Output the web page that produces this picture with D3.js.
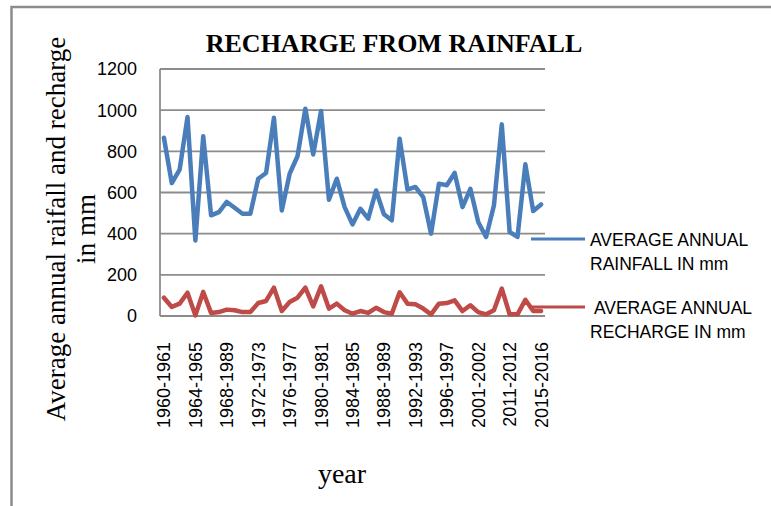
<!DOCTYPE html>
<html>
<head>
<meta charset="utf-8">
<script src="https://cdn.jsdelivr.net/npm/d3@7"></script>
<style>
  body { margin: 0; background: #fff; }
  svg { display: block; }
</style>
</head>
<body>
<svg id="chart" width="771" height="506"></svg>
<script>
// years, as printed on the axis where a label is shown
var years = [
  '1960-1961', '1961-1962', '1962-1963', '1963-1964', '1964-1965', '1965-1966',
  '1966-1967', '1967-1968', '1968-1989', '1969-1970', '1970-1971', '1971-1972',
  '1972-1973', '1973-1974', '1974-1975', '1975-1976', '1976-1977', '1977-1978',
  '1978-1979', '1979-1980', '1980-1981', '1981-1982', '1982-1983', '1983-1984',
  '1984-1985', '1985-1986', '1986-1987', '1987-1988', '1988-1989', '1989-1990',
  '1990-1991', '1991-1992', '1992-1993', '1993-1994', '1994-1995', '1995-1996',
  '1996-1997', '1997-1998', '1998-1999', '1999-2000', '2001-2002', '2002-2003',
  '2005-2006', '2008-2009', '2011-2012', '2012-2013', '2013-2014', '2014-2015',
  '2015-2016'
];

var rainfall = [
  866, 646, 711, 967, 367, 873, 489, 505, 554, 526, 497, 497, 667, 695, 963,
  513, 691, 776, 1007, 785, 996, 565, 667, 529, 445, 521, 473, 610, 494, 465,
  861, 614, 627, 578, 400, 643, 635, 695, 529, 618, 457, 384, 537, 931, 408,
  384, 737, 510, 542
];

var recharge = [
  89, 44, 60, 113, 3, 117, 15, 19, 31, 28, 19, 19, 63, 73, 138, 24, 68, 89,
  138, 47, 144, 36, 60, 28, 11, 24, 15, 40, 19, 11, 115, 60, 57, 36, 8, 60,
  63, 76, 24, 52, 19, 8, 28, 133, 8, 8, 79, 24, 24
];

var yTicks = [0, 200, 400, 600, 800, 1000, 1200];

var seriesNames = [
  ['AVERAGE ANNUAL', 'RAINFALL IN mm'],
  [' AVERAGE ANNUAL', 'RECHARGE IN mm']
];
var seriesColors = ['#4a7ebb', '#be4b48'];

var svg = d3.select('#chart');
var grey = '#8c8c8c';

// outer chart frame (right and bottom edges fall outside the picture)
svg.append('rect')
  .attr('x', 11.5).attr('y', 7)
  .attr('width', 900).attr('height', 700)
  .attr('fill', 'none')
  .attr('stroke', grey)
  .attr('stroke-width', 2.5);

var plot = { left: 160, right: 545, top: 69, bottom: 316 };

var x = d3.scaleBand()
  .domain(years)
  .range([plot.left, plot.right])
  .padding(0);

var y = d3.scaleLinear()
  .domain([0, 1200])
  .range([plot.bottom, plot.top]);

function cx(d) { return x(d) + x.bandwidth() / 2; }

// horizontal gridlines
svg.append('g')
  .selectAll('line')
  .data(yTicks)
  .join('line')
  .attr('x1', plot.left).attr('x2', plot.right)
  .attr('y1', function(d) { return y(d); })
  .attr('y2', function(d) { return y(d); })
  .attr('stroke', grey)
  .attr('stroke-width', 1.8);

// vertical axis line
svg.append('line')
  .attr('x1', plot.left).attr('x2', plot.left)
  .attr('y1', plot.top).attr('y2', plot.bottom)
  .attr('stroke', grey)
  .attr('stroke-width', 1.8);

// y tick labels
svg.append('g')
  .selectAll('text')
  .data(yTicks)
  .join('text')
  .attr('x', 137)
  .attr('y', function(d) { return y(d); })
  .attr('dy', '0.36em')
  .attr('text-anchor', 'end')
  .attr('font-family', 'Liberation Sans, Arial, sans-serif')
  .attr('font-size', 18)
  .attr('fill', '#000')
  .text(function(d) { return d; });

// x tick labels, every fourth year, rotated
svg.append('g')
  .selectAll('text')
  .data(years.filter(function(d, i) { return i % 4 === 0; }))
  .join('text')
  .attr('transform', function(d) { return 'translate(' + cx(d) + ',342) rotate(-90)'; })
  .attr('dy', '0.36em')
  .attr('text-anchor', 'end')
  .attr('font-family', 'Liberation Sans, Arial, sans-serif')
  .attr('font-size', 18)
  .attr('fill', '#000')
  .text(function(d) { return d; });

// data lines
var line = d3.line()
  .x(function(d, i) { return cx(years[i]); })
  .y(function(d) { return y(d); });

[rainfall, recharge].forEach(function(s, k) {
  svg.append('path')
    .datum(s)
    .attr('d', line)
    .attr('fill', 'none')
    .attr('stroke', seriesColors[k])
    .attr('stroke-width', 4.5)
    .attr('stroke-linejoin', 'round')
    .attr('stroke-linecap', 'round');
});

// legend
var legendY = [239, 307];
var legend = svg.append('g')
  .selectAll('g')
  .data(seriesNames)
  .join('g');

legend.append('line')
  .attr('x1', 531).attr('x2', 585)
  .attr('y1', function(d, i) { return legendY[i]; })
  .attr('y2', function(d, i) { return legendY[i]; })
  .attr('stroke', function(d, i) { return seriesColors[i]; })
  .attr('stroke-width', 3);

legend.append('text')
  .attr('x', 590)
  .attr('y', function(d, i) { return legendY[i] + 7; })
  .attr('font-family', 'Liberation Sans, Arial, sans-serif')
  .attr('font-size', 17.5)
  .attr('fill', '#000')
  .attr('xml:space', 'preserve')
  .style('white-space', 'pre')
  .selectAll('tspan')
  .data(function(d) { return d; })
  .join('tspan')
  .attr('x', 590)
  .attr('dy', function(d, j) { return j === 0 ? 0 : 24.3; })
  .text(function(d) { return d; });

// title
svg.append('text')
  .attr('x', 394).attr('y', 52)
  .attr('text-anchor', 'middle')
  .attr('font-family', 'Liberation Serif, Times New Roman, serif')
  .attr('font-weight', 'bold')
  .attr('font-size', 26)
  .attr('fill', '#000')
  .text('RECHARGE FROM RAINFALL');

// y axis title, two lines
var yTitle = svg.append('text')
  .attr('transform', 'translate(65,229) rotate(-90)')
  .attr('text-anchor', 'middle')
  .attr('font-family', 'Liberation Serif, Times New Roman, serif')
  .attr('font-size', 27)
  .attr('fill', '#000');
yTitle.append('tspan').attr('x', 0).attr('y', 0)
  .text('Average annual raifall and recharge');
yTitle.append('tspan').attr('x', 0).attr('y', 30)
  .text('in mm');

// x axis title
svg.append('text')
  .attr('x', 342).attr('y', 483)
  .attr('text-anchor', 'middle')
  .attr('font-family', 'Liberation Serif, Times New Roman, serif')
  .attr('font-size', 28)
  .attr('fill', '#000')
  .text('year');
</script>
</body>
</html>
